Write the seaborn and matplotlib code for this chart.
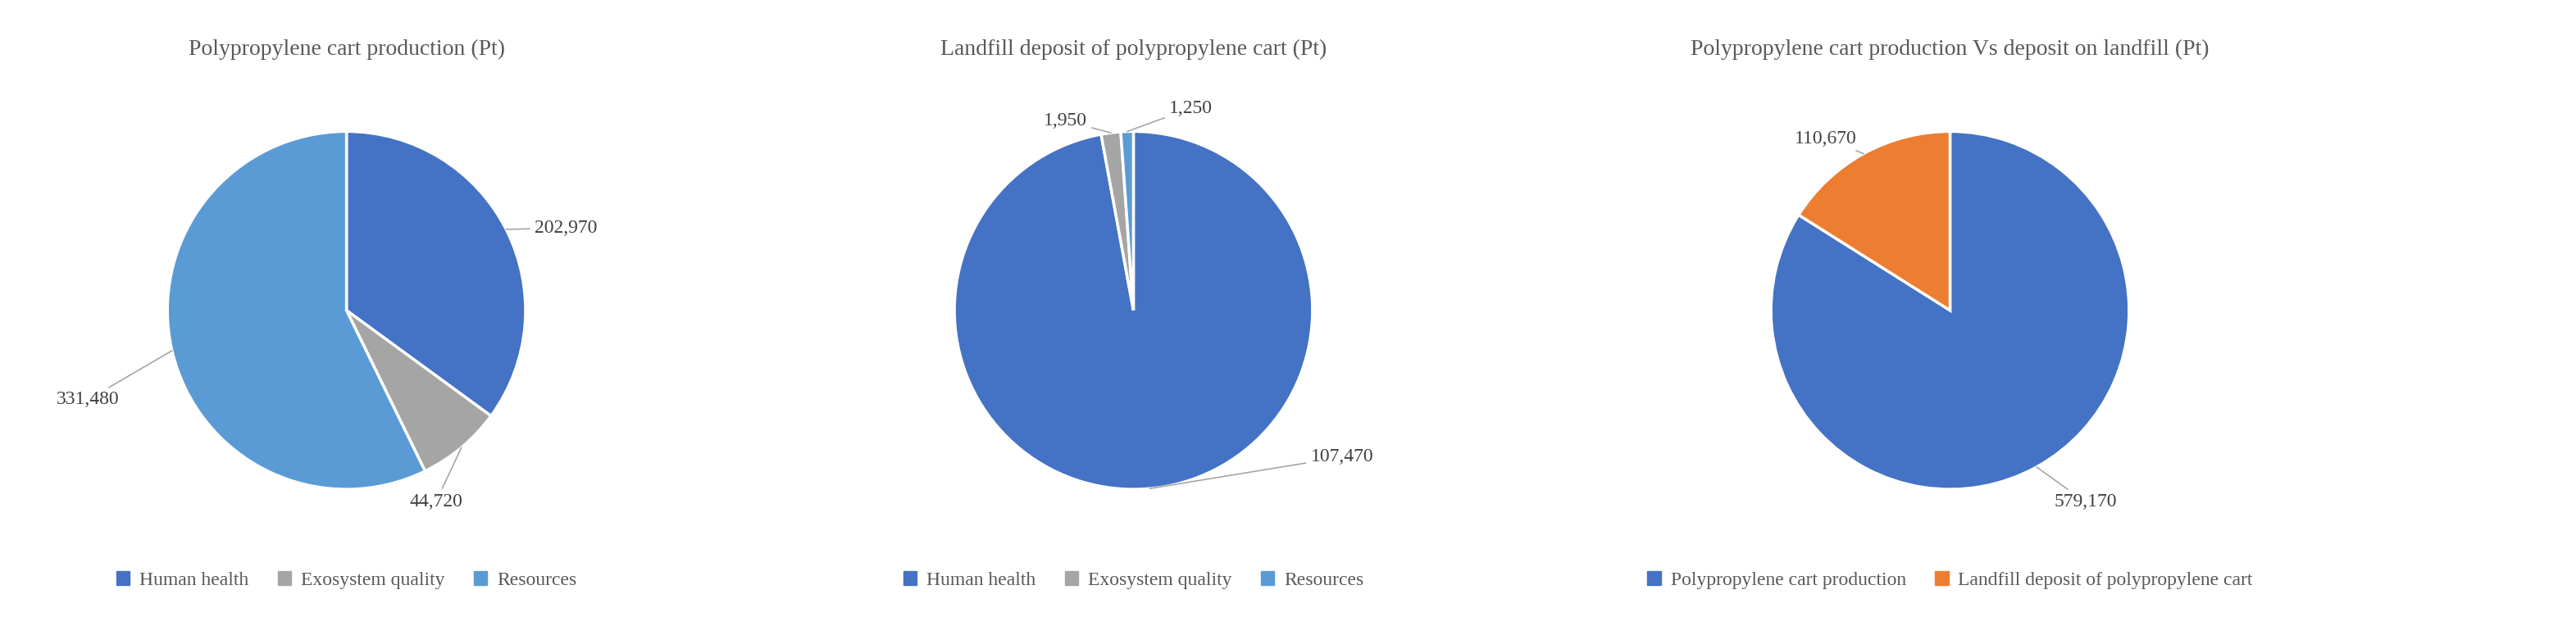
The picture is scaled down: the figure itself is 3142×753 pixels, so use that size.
import numpy as np
import matplotlib.pyplot as plt
import seaborn as sns

sns.set_theme(style="white")
plt.rcParams['font.family'] = ['Liberation Serif', 'DejaVu Serif']

# data
titles = ["Polypropylene cart production (Pt)",
          "Landfill deposit of polypropylene cart (Pt)",
          "Polypropylene cart production Vs deposit on landfill (Pt)"]
impact_cats = ["Human health", "Exosystem quality", "Resources"]
production = [202970, 44720, 331480]
landfill = [107470, 1950, 1250]
compare_cats = ["Polypropylene cart production", "Landfill deposit of polypropylene cart"]
compare = [579170, 110670]

impact_colors = ["#4472C4", "#A5A5A5", "#5B9BD5"]
compare_colors = ["#4472C4", "#ED7D31"]

# label placement (x, y, ha) in pie-radius units
label_pos = [
    [(1.05, 0.46, "left"), (0.5, -1.07, "center"), (-1.27, -0.5, "right")],
    [(0.99, -0.82, "left"), (-0.26, 1.06, "right"), (0.2, 1.13, "left")],
    [(0.58, -1.07, "left"), (-0.52, 0.96, "right")],
]

fig = plt.figure(figsize=(31.42, 7.53), dpi=100)
centers = [0.1345, 0.44, 0.757]
panels = [(production, impact_cats, impact_colors),
          (landfill, impact_cats, impact_colors),
          (compare, compare_cats, compare_colors)]

for cx, (vals, cats, cols), title, lp in zip(centers, panels, titles, label_pos):
    ax = fig.add_axes([cx - 0.0695, 0.207, 0.139, 0.58])
    wedges, _ = ax.pie(vals, colors=cols, startangle=90, counterclock=False,
                       wedgeprops=dict(edgecolor="white", linewidth=2.5))
    ax.set_xlim(-1, 1)
    ax.set_ylim(-1, 1)
    ax.set_aspect("equal")
    for w, v, (tx, ty, ha) in zip(wedges, vals, lp):
        ang = np.deg2rad((w.theta1 + w.theta2) / 2)
        x, y = np.cos(ang), np.sin(ang)
        ax.annotate(f"{v:,}", xy=(x, y), xytext=(tx, ty),
                    ha=ha, va="center", fontsize=17, color="#404040",
                    arrowprops=dict(arrowstyle="-", color="#A6A6A6", lw=1.2,
                                    shrinkA=2, shrinkB=0),
                    annotation_clip=False)
    fig.text(cx, 0.92, title, ha="center", va="center", fontsize=20, color="#595959")
    handles = [plt.Rectangle((0, 0), 1, 1, color=c) for c in cols]
    fig.legend(handles, cats, loc="center", bbox_to_anchor=(cx, 0.06), ncol=len(cats),
               frameon=False, fontsize=17, handlelength=0.7, handleheight=0.7,
               columnspacing=1.5, handletextpad=0.5, labelcolor="#595959")

fig.savefig("out.png", dpi=100)
